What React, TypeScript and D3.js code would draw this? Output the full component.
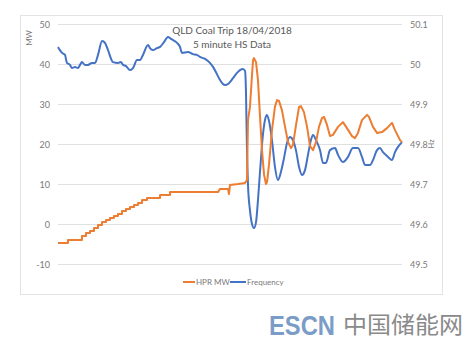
import React from "react";
import * as d3 from "d3";

// Time in seconds over the 5 minute window
const hprTime = [0, 8.7, 8.7, 20.9, 20.9, 24.4, 24.4, 27.9, 27.9, 31.4, 31.4, 34.9, 34.9, 38.4, 38.4, 41.9, 41.9, 45.3, 45.3, 48.8, 48.8, 52.3, 52.3, 55.8, 55.8, 59.3, 59.3, 62.8, 62.8, 66.3, 66.3, 69.8, 69.8, 73.3, 73.3, 77.6, 77.6, 89.0, 89.0, 97.7, 97.7, 139.5, 141.3, 148.3, 149.1, 150.0, 157.0, 163.1, 164.8, 165.7, 167.4, 169.2, 170.1, 170.9, 172.7, 174.4, 176.1, 177.9, 179.7, 181.4, 182.3, 184.0, 186.6, 189.2, 191.0, 192.7, 195.3, 198.0, 200.6, 203.2, 204.9, 207.6, 210.2, 211.9, 214.5, 217.2, 219.8, 222.4, 225.0, 227.6, 230.2, 232.0, 234.6, 237.2, 239.8, 244.2, 248.5, 252.0, 256.4, 259.0, 261.6, 265.1, 269.5, 271.2, 274.7, 278.2, 282.6, 286.9, 291.3, 293.9, 298.3, 300];
const hprMW = [-4.6, -4.6, -3.9, -3.9, -2.9, -2.9, -2.1, -2.1, -1.6, -1.6, -0.9, -0.9, -0.1, -0.1, 0.6, 0.6, 1.1, 1.1, 1.6, 1.6, 2.1, 2.1, 2.6, 2.6, 3.4, 3.4, 3.9, 3.9, 4.4, 4.4, 4.9, 4.9, 5.4, 5.4, 6.1, 6.1, 6.6, 6.6, 7.4, 7.4, 8.1, 8.1, 8.9, 8.9, 7.6, 9.9, 10.1, 10.4, 11.1, 26.1, 29.4, 37.4, 41.1, 41.6, 40.6, 36.1, 27.4, 18.6, 12.4, 10.1, 10.6, 14.9, 23.6, 29.4, 31.1, 30.9, 28.6, 24.4, 20.6, 19.1, 19.9, 24.9, 29.4, 29.6, 28.1, 24.4, 19.6, 18.6, 20.6, 24.4, 26.6, 26.9, 24.9, 22.1, 22.4, 24.4, 25.6, 24.1, 22.1, 21.6, 22.9, 26.1, 27.4, 26.9, 24.4, 22.9, 23.1, 24.1, 25.4, 23.6, 21.1, 20.6];

const freqTime = [0, 1.7, 3.5, 6.1, 7.8, 10.5, 12.2, 14.8, 17.4, 19.2, 20.9, 23.5, 26.2, 29.6, 32.3, 34.9, 38.4, 41.0, 43.6, 48.0, 52.3, 54.9, 56.7, 59.3, 62.8, 65.4, 68.9, 71.5, 74.1, 78.5, 80.2, 82.8, 86.3, 89.0, 92.4, 95.9, 98.5, 100.3, 103.8, 106.4, 108.1, 113.4, 117.7, 121.2, 123.8, 128.2, 132.5, 135.2, 138.6, 141.3, 143.9, 145.6, 148.2, 150.0, 152.6, 156.1, 158.7, 161.3, 163.1, 163.9, 164.8, 165.7, 167.4, 169.2, 170.9, 172.7, 174.4, 176.1, 178.7, 180.5, 182.2, 184.0, 186.6, 189.2, 191.8, 194.4, 197.1, 199.7, 202.3, 204.9, 207.5, 210.2, 212.8, 215.4, 218.0, 220.6, 222.4, 225.0, 228.5, 231.1, 233.7, 237.2, 241.6, 244.2, 248.5, 252.9, 257.2, 261.6, 265.1, 267.7, 272.1, 274.7, 278.2, 280.8, 283.4, 287.8, 291.2, 293.9, 296.5, 300];
const freqHz = [50.044, 50.036, 50.029, 50.024, 50.004, 49.999, 49.991, 49.994, 49.991, 49.999, 50.006, 49.999, 49.999, 50.004, 50.004, 50.024, 50.059, 50.054, 50.036, 50.006, 50.004, 50.006, 49.999, 49.996, 49.986, 49.991, 50.011, 50.011, 50.024, 50.049, 50.041, 50.036, 50.041, 50.044, 50.056, 50.069, 50.064, 50.061, 50.054, 50.044, 50.029, 50.031, 50.026, 50.024, 50.019, 50.014, 50.004, 49.994, 49.976, 49.961, 49.951, 49.949, 49.951, 49.956, 49.966, 49.979, 49.986, 49.989, 49.984, 49.936, 49.786, 49.699, 49.636, 49.601, 49.591, 49.606, 49.661, 49.729, 49.824, 49.861, 49.874, 49.859, 49.811, 49.744, 49.711, 49.731, 49.766, 49.804, 49.819, 49.811, 49.786, 49.744, 49.724, 49.736, 49.774, 49.811, 49.824, 49.811, 49.786, 49.754, 49.754, 49.786, 49.791, 49.774, 49.756, 49.769, 49.791, 49.791, 49.769, 49.749, 49.749, 49.761, 49.786, 49.791, 49.781, 49.769, 49.761, 49.781, 49.794, 49.806];

const mwTicks = [-10, 0, 10, 20, 30, 40, 50];
const hzTicks = [49.5, 49.6, 49.7, 49.8, 49.9, 50, 50.1];
const titleLines = ["QLD Coal Trip 18/04/2018", "5 minute HS Data"];
const seriesNames = ["HPR MW", "Frequency"];

const W = 468;
const H = 342;
const ORANGE = "#ED7D31";
const BLUE = "#4472C4";
const TXT = "#7a7a7a";
const FONT = "Lato, 'Open Sans', 'Liberation Sans', sans-serif";

export default function App() {
  const x = d3.scaleLinear().domain([0, 300]).range([58, 402]);
  const yL = d3.scaleLinear().domain([-10, 50]).range([264.5, 24.5]);
  const yR = d3.scaleLinear().domain([49.5, 50.1]).range([264.5, 24.5]);

  const hprData = hprTime.map((t, i) => [t, hprMW[i]] as [number, number]);
  const freqData = freqTime.map((t, i) => [t, freqHz[i]] as [number, number]);

  const hprLine = d3.line<[number, number]>().x((d) => x(d[0])).y((d) => yL(d[1]));
  const freqLine = d3.line<[number, number]>().x((d) => x(d[0])).y((d) => yR(d[1])).curve(d3.curveMonotoneX);

  return (
    <svg
      width={W}
      height={H}
      style={{ position: "absolute", left: 0, top: 0, background: "#fff" }}
      fontFamily={FONT}
    >
      <rect x={20.5} y={15.5} width={422} height={279} fill="#fff" stroke="#e3e3e3" />
      {mwTicks.map((t) => (
        <line key={t} x1={58} x2={402} y1={yL(t)} y2={yL(t)} stroke="#e0e0e0" strokeWidth={1} />
      ))}
      {mwTicks.map((t) => (
        <text key={"l" + t} x={50} y={yL(t)} dy="0.35em" textAnchor="end" fontSize={9} fill={TXT}>
          {t}
        </text>
      ))}
      {hzTicks.map((t) => (
        <text key={"r" + t} x={410} y={yR(t)} dy="0.35em" textAnchor="start" fontSize={9} fill={TXT}>
          {d3.format("~g")(t)}
        </text>
      ))}
      <text transform="translate(32,38) rotate(-90)" textAnchor="middle" fontSize={8} fill={TXT}>
        MW
      </text>
      <text transform="translate(434,144) rotate(-90)" textAnchor="middle" fontSize={7.5} fill={TXT}>
        Hz
      </text>
      <text x={232} y={34} textAnchor="middle" fontSize={10} fill="#595959">
        {titleLines[0]}
      </text>
      <text x={232} y={48} textAnchor="middle" fontSize={10} fill="#595959">
        {titleLines[1]}
      </text>

      <path d={freqLine(freqData) || ""} fill="none" stroke={BLUE} strokeWidth={2} strokeLinejoin="round" />
      <path d={hprLine(hprData) || ""} fill="none" stroke={ORANGE} strokeWidth={2} strokeLinejoin="round" />

      <line x1={183} x2={195} y1={282} y2={282} stroke={ORANGE} strokeWidth={2} />
      <text x={196} y={282} dy="0.35em" fontSize={8} fill={TXT}>
        {seriesNames[0]}
      </text>
      <line x1={230} x2={246} y1={282} y2={282} stroke={BLUE} strokeWidth={2} />
      <text x={247} y={282} dy="0.35em" fontSize={8} fill={TXT}>
        {seriesNames[1]}
      </text>

      <text x={269} y={335} fontSize={28} fontWeight="bold" fill="#7C9CC8" textLength={66} lengthAdjust="spacingAndGlyphs" fontFamily="'Liberation Sans', sans-serif">
        ESCN
      </text>
      <text x={343} y={333} fontSize={23} fill="#8a8a8a" textLength={120} lengthAdjust="spacingAndGlyphs" fontFamily="'Noto Sans CJK SC', sans-serif">
        中国储能网
      </text>
    </svg>
  );
}
